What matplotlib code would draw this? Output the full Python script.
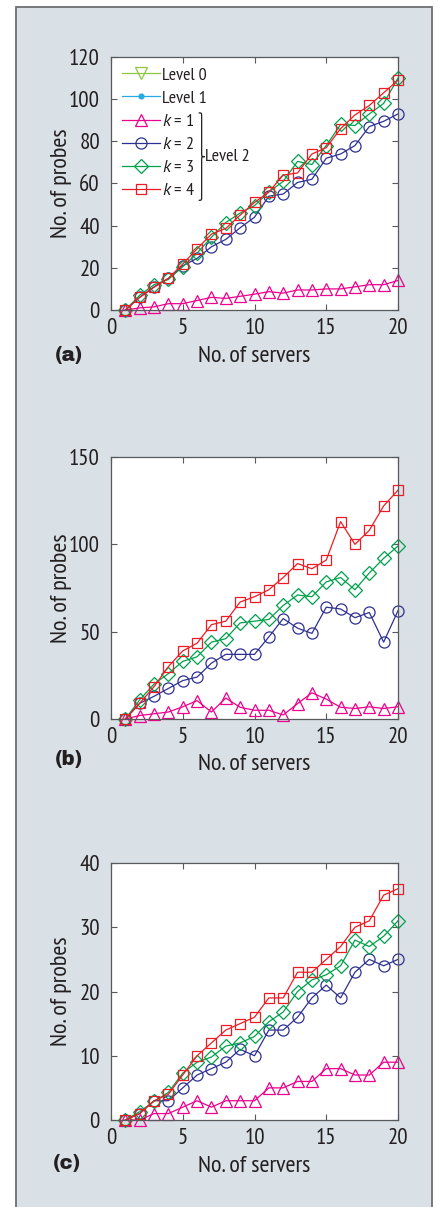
import matplotlib
matplotlib.use("Agg")
import matplotlib.pyplot as plt
from matplotlib.lines import Line2D
from matplotlib.patches import Rectangle, PathPatch
from matplotlib.path import Path

plt.rcParams["font.family"] = ["PT Sans Narrow", "Roboto Condensed", "DejaVu Sans"]
plt.rcParams["mathtext.fontset"] = "custom"
plt.rcParams["mathtext.it"] = "PT Sans:italic"
plt.rcParams["mathtext.rm"] = "PT Sans Narrow"

# ---- data -------------------------------------------------------------
servers = list(range(1, 21))

a_k1 = [0, 1, 1.5, 3, 3, 4.5, 6, 5.5, 6.5, 7.5, 8.7, 8, 9.5, 9.5, 10, 10, 11, 12, 12, 14]
a_k2 = [0, 6, 11, 15, 21, 24.5, 30, 33.5, 39, 44, 54, 55, 60.5, 62, 72, 74, 78, 87, 89.5, 93]
a_k3 = [0, 7, 12, 14.5, 20.5, 27, 34.5, 41.5, 46, 49.5, 56, 61, 70.5, 69, 78, 88, 87.5, 93, 98, 110]
a_k4 = [0, 6, 10.8, 15, 21.8, 29, 36, 38.7, 45, 51, 56, 64, 65, 74, 77, 86, 92.5, 97, 103, 109]

b_k1 = [0, 2, 3, 4, 7, 10.5, 4, 12, 6.7, 5, 5, 2.3, 8.8, 15, 11.4, 6.7, 6, 7, 6, 7]
b_k2 = [0, 9, 13, 17.5, 22, 24, 32, 37, 37, 37, 47, 57.5, 52, 49, 64, 63, 58, 61, 44, 62]
b_k3 = [0, 11, 20, 26, 33, 35.6, 44, 46, 55, 56, 57, 65, 71, 70, 78.5, 81, 74, 83.6, 92, 99]
b_k4 = [0, 9, 18.5, 30, 39, 43.4, 54, 56, 67, 70, 74, 81, 89, 86, 91, 113, 100, 108, 122, 131]

c_k1 = [0, 0, 1, 1, 2, 3, 2, 3, 3, 3, 5, 5, 6, 6, 8, 8, 7, 7, 9, 9]
c_k2 = [0, 1, 3, 3, 5, 7, 8, 9, 11, 10, 14, 14, 16, 19, 21, 19, 23, 25, 24, 25]
c_k3 = [0, 1.3, 2.9, 4.3, 7.3, 9, 9.8, 11.5, 12, 13, 15.3, 16.8, 20, 21.8, 22.6, 24, 28, 27, 28.6, 31]
c_k4 = [0, 1, 3, 4, 7, 10, 12, 14, 15, 16, 19, 19, 23, 23, 25, 27, 30, 31, 35, 36]

x_ticks = [0, 5, 10, 15, 20]
panel_ylims = {"a": (0, 120, 20), "b": (0, 150, 50), "c": (0, 40, 10)}
panel_series = {
    "a": [a_k1, a_k2, a_k3, a_k4],
    "b": [b_k1, b_k2, b_k3, b_k4],
    "c": [c_k1, c_k2, c_k3, c_k4],
}
legend_labels = ["Level 0", "Level 1", "$k$ = 1", "$k$ = 2", "$k$ = 3", "$k$ = 4"]

# ---- styles -----------------------------------------------------------
TEXT = "#231f20"
SPINE = "#58595b"
styles = [
    dict(color="#ec008c", marker="^", ms=8.5),   # k = 1
    dict(color="#2e3192", marker="o", ms=8.0),   # k = 2
    dict(color="#00a14b", marker="D", ms=7.2),   # k = 3
    dict(color="#ed1c24", marker="s", ms=7.4),   # k = 4
]
level_styles = [
    dict(color="#8dc63f", marker="v", ms=8.5, mfc="none"),  # Level 0
    dict(color="#27aae1", marker="o", ms=3.5, mfc="#27aae1"),  # Level 1
]

W, H = 438, 1207
fig = plt.figure(figsize=(W / 100, H / 100), dpi=100)
fig.patch.set_facecolor("white")

# shaded box behind the three panels
bg = Rectangle((16 / W, -0.01), (432 - 16) / W, (H - 7) / H + 0.01,
               transform=fig.transFigure, facecolor="#d9e0e6",
               edgecolor="#6d6e71", lw=1.3, zorder=0)
fig.add_artist(bg)

# axes boxes in pixels: (left, top, right, bottom)
boxes = {"a": (111, 57, 398, 310), "b": (111, 457, 398, 719), "c": (111, 863, 398, 1120)}
label_pos = {"a": (69, 356), "b": (69, 760), "c": (67, 1163)}

axes = {}
for key in ["a", "b", "c"]:
    l, t, r, b = boxes[key]
    ax = fig.add_axes([l / W, (H - b) / H, (r - l) / W, (b - t) / H])
    ax.set_facecolor("white")
    axes[key] = ax
    for s, y in zip(styles, panel_series[key]):
        ax.plot(servers, y, color=s["color"], marker=s["marker"], ms=s["ms"],
                mfc="none", mec=s["color"], mew=0.9, lw=0.9, clip_on=False)
    y0, y1, ys = panel_ylims[key]
    ax.set_xlim(0, 20)
    ax.set_ylim(y0, y1)
    ax.set_xticks(x_ticks)
    ax.set_yticks(list(range(y0, y1 + 1, ys)))
    ax.tick_params(direction="in", length=4, width=0.8, color=SPINE,
                   top=True, right=True, labelsize=16.5, labelcolor=TEXT)
    ax.tick_params(axis="x", pad=6)
    ax.tick_params(axis="y", pad=8)
    for sp in ax.spines.values():
        sp.set_color(SPINE)
        sp.set_linewidth(0.9)
    ax.set_xlabel("No. of servers", fontsize=17.5, color=TEXT)
    ax.set_ylabel("No. of probes", fontsize=17.5, color=TEXT)
    ax.xaxis.label.set_va("center")
    ax.yaxis.label.set_va("center")
    ax.xaxis.set_label_coords(0.5, -46 / (b - t))
    ax.yaxis.set_label_coords((61 - l) / (r - l), 0.5)
    px, py = label_pos[key]
    fig.text(px / W, 1 - py / H, "(%s)" % key, ha="center", va="center",
             fontsize=14, family=["Archivo Black", "DejaVu Sans"],
             weight="black", color=TEXT)

# legend on the top panel
ax = axes["a"]
handles = []
for s in level_styles:
    handles.append(Line2D([], [], color=s["color"], marker=s["marker"], ms=s["ms"],
                          mfc=s["mfc"], mec=s["color"], mew=0.9, lw=0.9))
for s in styles:
    handles.append(Line2D([], [], color=s["color"], marker=s["marker"], ms=s["ms"],
                          mfc="none", mec=s["color"], mew=0.9, lw=0.9))
leg = ax.legend(handles, legend_labels, loc="upper left",
                bbox_to_anchor=(11 / 287, (310 - 67) / 253), borderaxespad=0,
                borderpad=0, frameon=False, fontsize=13, handlelength=2.1,
                handletextpad=0.1, labelspacing=0.36, labelcolor=TEXT)

# brace grouping the k rows as "Level 2"
fig.canvas.draw()
renderer = fig.canvas.get_renderer()
texts = leg.get_texts()
ext_top = texts[2].get_window_extent(renderer)
ext_bot = texts[5].get_window_extent(renderer)
x_right = max(t.get_window_extent(renderer).x1 for t in texts[2:])
inv = ax.transAxes.inverted()
bx0 = x_right + 4
yt, yb = ext_top.y1 + 1, ext_bot.y0 - 1
ym = (yt + yb) / 2
w, rr = 3.0, 4.0
verts = [
    (bx0, yt), (bx0 + w, yt), (bx0 + w, yt), (bx0 + w, yt - rr),
    (bx0 + w, ym + rr),
    (bx0 + w, ym), (bx0 + w, ym), (bx0 + 2 * w, ym),
    (bx0 + w, ym), (bx0 + w, ym), (bx0 + w, ym - rr),
    (bx0 + w, yb + rr),
    (bx0 + w, yb), (bx0 + w, yb), (bx0, yb),
]
codes = [Path.MOVETO, Path.CURVE4, Path.CURVE4, Path.CURVE4,
         Path.LINETO,
         Path.CURVE4, Path.CURVE4, Path.CURVE4,
         Path.CURVE4, Path.CURVE4, Path.CURVE4,
         Path.LINETO,
         Path.CURVE4, Path.CURVE4, Path.CURVE4]
verts_ax = [tuple(inv.transform(v)) for v in verts]
brace = PathPatch(Path(verts_ax, codes), transform=ax.transAxes, fill=False,
                  edgecolor=TEXT, lw=0.9, clip_on=False)
ax.add_patch(brace)
tx, ty = inv.transform((bx0 + 2 * w, ym))
ax.text(tx, ty, "Level 2", transform=ax.transAxes, ha="left", va="center",
        fontsize=13, color=TEXT)

fig.savefig("out.png", dpi=100, facecolor=fig.get_facecolor())
